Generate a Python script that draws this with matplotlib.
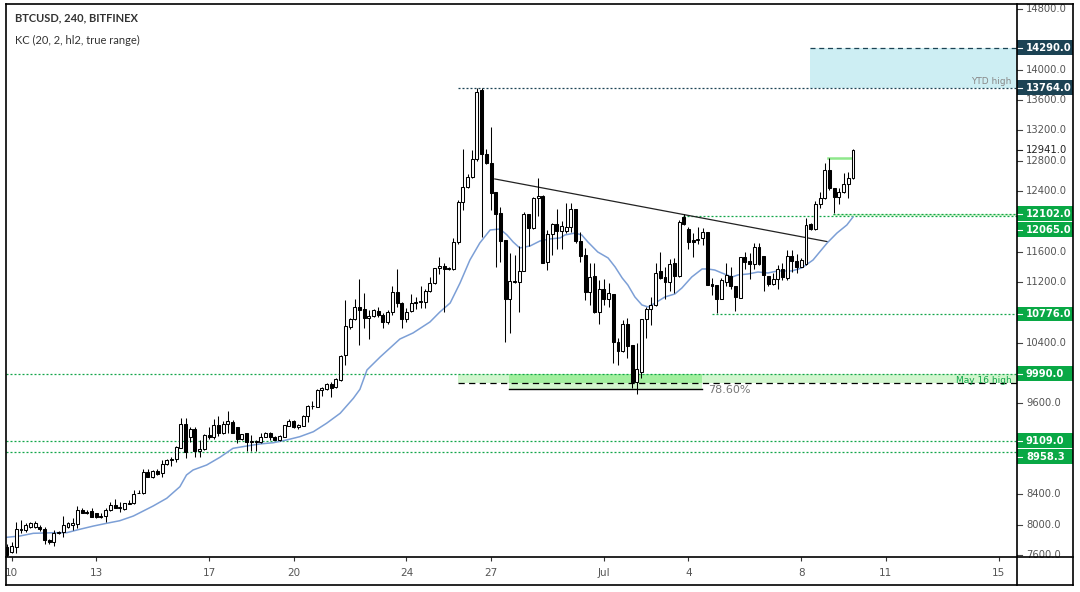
import matplotlib
matplotlib.use("Agg")
import matplotlib.pyplot as plt
from matplotlib.lines import Line2D
from matplotlib.patches import Rectangle
import numpy as np

# ---------------- data (4h candles, BTCUSD Bitfinex) ----------------
opens = [7700, 7642, 7708, 7930, 7928, 7972, 7963, 7968, 7937, 7796,
         7774, 7893, 7906, 7972, 7994, 8003, 8192, 8170, 8183, 8148,
         8104, 8113, 8192, 8254, 8223, 8210, 8275, 8280, 8412, 8412,
         8694, 8632, 8711, 8676, 8795, 8852, 8861, 9015, 9323, 9160,
         9257, 8971, 8993, 9182, 9151, 9314, 9204, 9323, 9358, 9292,
         9129, 9204, 9090, 9094, 9094, 9160, 9213, 9160, 9116, 9160,
         9301, 9367, 9292, 9305, 9437, 9560, 9556, 9776, 9785, 9855,
         9811, 9908, 10238, 10612, 10708, 10867, 10840, 10722, 10752, 10823,
         10766, 10669, 10810, 11074, 10920, 10713, 10818, 10928, 10940, 10942,
         11082, 11183, 11381, 11412, 11368, 11368, 11733, 12252, 12450, 12581,
         12819, 13733, 12889, 12766, 12383, 12106, 11755, 10972, 11205, 11205,
         11346, 12098, 11909, 12304, 12339, 11469, 11834, 11966, 11878, 11878,
         11922, 12159, 11746, 11557, 11073, 11280, 10800, 11108, 10972, 11042,
         10414, 10295, 10647, 10370, 9886, 10018, 10708, 10840, 10897, 11350,
         11262, 11205, 11447, 11280, 12062, 11896, 11755, 11755, 11776, 11855,
         11174, 11161, 10976, 11205, 11284, 11148, 10994, 11526, 11482, 11438,
         11658, 11543, 11280, 11174, 11240, 11367, 11258, 11543, 11477, 11403,
         11440, 11966, 11896, 12230, 12305, 12678, 12436, 12327, 12393, 12494,
         12568]
highs = [7740, 7765, 8038, 8060, 8025, 8040, 8045, 7990, 7972, 7810,
         7928, 7920, 8113, 8030, 8091, 8250, 8223, 8190, 8223, 8160,
         8150, 8223, 8293, 8337, 8302, 8290, 8324, 8456, 8456, 8729,
         8729, 8720, 8729, 8852, 8870, 8887, 9041, 9411, 9411, 9292,
         9283, 9116, 9190, 9292, 9398, 9433, 9367, 9499, 9380, 9292,
         9200, 9213, 9182, 9116, 9204, 9225, 9226, 9170, 9180, 9320,
         9389, 9375, 9328, 9440, 9580, 9635, 9790, 9820, 9870, 9886,
         9940, 10240, 10964, 10730, 10980, 11240, 11051, 10832, 10850, 10867,
         10788, 10830, 11148, 11368, 10942, 10854, 11042, 11007, 11148, 11104,
         11262, 11390, 11526, 11447, 11400, 11777, 12282, 12955, 12625, 12942,
         13764, 13764, 12955, 13241, 12383, 12194, 11755, 11579, 11557, 11676,
         12128, 12098, 12326, 12568, 12348, 11887, 11975, 12159, 12000, 12247,
         12247, 12159, 11865, 11645, 11447, 11456, 11227, 11236, 11192, 11042,
         10458, 10700, 10721, 10370, 10392, 10713, 10866, 10999, 11456, 11601,
         11403, 11500, 11513, 12018, 12098, 11931, 11843, 11922, 11908, 11855,
         11249, 11161, 11249, 11455, 11403, 11148, 11535, 11600, 11587, 11719,
         11719, 11543, 11280, 11323, 11420, 11455, 11622, 11622, 11565, 11513,
         12050, 11975, 12274, 12392, 12766, 12832, 12436, 12436, 12634, 12656,
         12960]
lows = [7560, 7630, 7630, 7893, 7906, 7950, 7950, 7920, 7740, 7750,
        7722, 7880, 7840, 7960, 7928, 7950, 8148, 8140, 8095, 8090,
        8090, 8038, 8183, 8218, 8170, 8200, 8270, 8276, 8412, 8410,
        8623, 8620, 8654, 8632, 8790, 8773, 8830, 9015, 8883, 9085,
        8887, 8887, 8990, 9130, 9134, 9169, 9195, 9204, 9204, 9072,
        9120, 8971, 8971, 8971, 9072, 9150, 9116, 9110, 9100, 9150,
        9295, 9280, 9261, 9300, 9350, 9525, 9550, 9697, 9780, 9679,
        9800, 9900, 10106, 10580, 10700, 10370, 10590, 10445, 10740, 10744,
        10590, 10650, 10765, 10876, 10590, 10669, 10810, 10840, 10854, 10854,
        11073, 11180, 11306, 10810, 11360, 11360, 11698, 12150, 12436, 12568,
        12800, 11799, 12757, 12150, 11394, 11469, 10413, 10523, 11183, 10809,
        11340, 11676, 11900, 12076, 11447, 11359, 11557, 11632, 11632, 11843,
        11865, 11720, 11469, 10963, 10897, 10796, 10647, 10897, 10867, 10128,
        10106, 10282, 10194, 9798, 9720, 9930, 10458, 10634, 10884, 11236,
        10972, 11086, 11060, 11271, 11953, 11640, 11526, 11702, 11688, 11161,
        11029, 10796, 10976, 11148, 11104, 10818, 10985, 11367, 11236, 11367,
        11420, 11086, 11148, 11161, 11108, 11227, 11227, 11337, 11323, 11403,
        11420, 11887, 11887, 12173, 12300, 12414, 12116, 12230, 12370, 12305,
        12555]
closes = [7600, 7717, 7937, 7937, 7990, 8016, 8025, 7937, 7796, 7774,
          7893, 7906, 7990, 8016, 8016, 8192, 8157, 8157, 8104, 8104,
          8120, 8192, 8258, 8223, 8236, 8280, 8285, 8399, 8420, 8694,
          8632, 8707, 8667, 8799, 8852, 8865, 9028, 9323, 8962, 9257,
          8971, 9002, 9182, 9151, 9314, 9204, 9323, 9367, 9213, 9125,
          9195, 9085, 9094, 9098, 9160, 9213, 9160, 9116, 9169, 9314,
          9371, 9283, 9314, 9433, 9565, 9570, 9776, 9798, 9855, 9798,
          9926, 10225, 10620, 10708, 10867, 10831, 10722, 10752, 10832, 10766,
          10669, 10810, 11074, 10920, 10713, 10810, 10928, 10942, 10945, 11082,
          11183, 11381, 11407, 11368, 11381, 11733, 12252, 12450, 12581, 12819,
          13700, 12889, 12766, 12370, 12098, 11746, 10972, 11218, 11215, 11346,
          12098, 11909, 12304, 12339, 11456, 11834, 11966, 11878, 11940, 11922,
          12159, 11746, 11548, 11073, 11262, 10809, 11108, 10972, 11051, 10414,
          10295, 10647, 10361, 9886, 10049, 10713, 10840, 10897, 11324, 11249,
          11205, 11438, 11280, 11988, 11966, 11733, 11733, 11760, 11855, 11161,
          11148, 10972, 11227, 11293, 11148, 11007, 11526, 11464, 11433, 11658,
          11433, 11293, 11174, 11240, 11367, 11262, 11543, 11477, 11403, 11486,
          11953, 11896, 12230, 12305, 12678, 12436, 12327, 12393, 12494, 12568,
          12941]

# Keltner channel middle line (candle index, price)
kc_x = [-0.1, 2.8, 5.6, 9.9, 12.7, 15.5, 18.4, 21.2, 24.0, 26.9,
        28.3, 31.1, 34.0, 36.8, 38.2, 39.6, 42.5, 45.3, 48.1, 51.0,
        53.8, 56.7, 59.5, 62.3, 65.2, 68.0, 70.9, 73.7, 75.1, 76.6,
        79.4, 83.6, 86.4, 90.0, 92.1, 94.3, 96.4, 98.5, 100.6, 102.8,
        104.9, 106.4, 107.7, 109.1, 111.3, 113.4, 115.5, 117.7, 118.7, 120.9,
        122.3, 123.6, 125.7, 127.9, 129.4, 130.9, 132.1, 133.6, 135.1, 136.4,
        137.9, 140.0, 142.1, 143.6, 145.7, 147.9, 149.1, 150.6, 152.1, 154.3,
        155.5, 157.7, 159.8, 161.9, 164.0, 167.0, 169.1, 171.5, 174.5, 176.6,
        178.7, 180.0]
kc_y = [7833, 7851, 7886, 7894, 7894, 7939, 7982, 8018, 8052, 8114,
        8158, 8246, 8348, 8501, 8655, 8721, 8787, 8888, 9007, 9037,
        9064, 9081, 9117, 9160, 9226, 9337, 9469, 9666, 9785, 10040,
        10211, 10448, 10528, 10673, 10804, 10923, 11187, 11490, 11714, 11886,
        11899, 11820, 11728, 11649, 11675, 11741, 11768, 11781, 11820, 11846,
        11820, 11728, 11596, 11517, 11398, 11253, 11161, 11003, 10897, 10871,
        10923, 11003, 11042, 11121, 11266, 11372, 11372, 11358, 11319, 11266,
        11293, 11306, 11332, 11319, 11346, 11346, 11385, 11490, 11714, 11846,
        11952, 12057]

tick_pos = [1, 19, 43, 61, 85, 103, 127, 145, 169, 187, 211]
tick_labels = ["10", "13", "17", "20", "24", "27", "Jul", "4", "8", "11", "15"]
price_ticks = list(range(7600, 14801, 400))

green_levels = [12102.0, 12065.0, 10776.0, 9990.0, 9109.0, 8958.3]
teal_levels = [14290.0, 13764.0]
last_price = 12941.0
ytd_high = 14290.0
may16_high = 9868.0
fib_786 = 9789.0
local_high = 12835.0

# ---------------- layout ----------------
W, H = 1080, 592
PX = 13.187                      # price units per pixel
Y0 = 7600 - 2 * PX
Y1 = 7600 + 551 * PX
XL, XR = -0.2, 214.9
END = XR

GREEN = "#12a64a"
GREEN_BOX = "#09a845"
TEAL = "#1c4354"
GRAY = "#555555"

fig = plt.figure(figsize=(W / 100, H / 100), dpi=100)
fig.patch.set_facecolor("white")

def fx(px):
    return px / W

def fy(py):
    return 1 - py / H

ax = fig.add_axes([fx(6), fy(557), (1017 - 6) / W, 553 / H])
ax.set_xlim(XL, XR)
ax.set_ylim(Y0, Y1)
for s in ax.spines.values():
    s.set_visible(False)
ax.set_yticks([])
ax.set_xticks(tick_pos)
ax.set_xticklabels(tick_labels)
ax.tick_params(axis="x", direction="out", length=3, width=0.8, color="#333333",
               labelsize=7.5, labelcolor=GRAY, pad=5)

ax2 = fig.add_axes([fx(1017), fy(557), 56 / W, 553 / H])
ax2.set_xlim(0, 1)
ax2.set_ylim(Y0, Y1)
ax2.axis("off")

# ---------------- zones & levels ----------------
ax.add_patch(Rectangle((170.9, 13764), END - 170.9, 14290 - 13764,
                       facecolor="#cdeef3", edgecolor="none", zorder=1))
ax.add_patch(Rectangle((96.0, may16_high), END - 96.0, 9990 - may16_high,
                       facecolor="#d2f6ce", edgecolor="none", zorder=1))
ax.add_patch(Rectangle((106.8, may16_high), 147.9 - 106.8, 9990 - may16_high,
                       facecolor="#a2ef9e", edgecolor="none", zorder=1.1))
ax.add_patch(Rectangle((106.8, fib_786), 147.9 - 106.8, may16_high - fib_786,
                       facecolor="#d2f6ce", edgecolor="none", zorder=1.1))
ax.add_patch(Rectangle((175.7, 12065), END - 175.7, 12102 - 12065,
                       facecolor="#d2f6ce", edgecolor="none", zorder=1))

dot = (0, (1.6, 1.6))
level_starts = {12102.0: 175.7, 12065.0: 143.8, 10776.0: 150.0,
                9990.0: XL, 9109.0: XL, 8958.3: XL}
for lv in green_levels:
    ax.plot([level_starts[lv], END], [lv, lv], color=GREEN, lw=0.9,
            linestyle=dot, zorder=2)
ax.plot([96.0, END], [13764, 13764], color=TEAL, lw=0.9, linestyle=dot, zorder=2)
ax.plot([170.9, END], [ytd_high, ytd_high], color=TEAL, lw=0.9,
        linestyle=(0, (4, 3)), zorder=2)
ax.plot([96.0, END], [may16_high, may16_high], color="black", lw=0.9,
        linestyle=(0, (5, 3.5)), zorder=2)
ax.plot([106.8, 147.9], [fib_786, fib_786], color="black", lw=1.0, zorder=2)

# trend line and local-high marker
ax.plot([103.8, 174.5], [12559, 11733], color="#222222", lw=0.9, zorder=2.5)
ax.plot([174.7, 179.8], [local_high, local_high], color="#8fe88c", lw=1.8, zorder=2.5)

# KC middle line
ax.plot(kc_x, kc_y, color="#7c9fd6", lw=1.1, zorder=2.6)

# ---------------- candles ----------------
o = np.array(opens, float)
h = np.array(highs, float)
l = np.array(lows, float)
c = np.array(closes, float)
x = np.arange(len(o))
up = c >= o
ax.vlines(x, l, h, color="black", lw=0.75, zorder=3)
bottoms = np.minimum(o, c)
heights = np.maximum(np.abs(c - o), 10)
ax.bar(x, heights, bottom=bottoms, width=0.62,
       color=np.where(up, "white", "black"), edgecolor="black",
       linewidth=0.75, zorder=4)

# annotations
ax.text(213.8, 13850, "YTD high", ha="right", va="center", fontsize=6.5,
        color="#888888", zorder=5)
ax.text(213.8, 9900, "May 16 high", ha="right", va="center", fontsize=6.5,
        color=GREEN, zorder=5)
ax.text(149.2, 9770, "78.60%", ha="left", va="center", fontsize=8,
        color="#777777", zorder=5)

# ---------------- right price scale ----------------
hh = 7.3 * PX
# displayed label positions (labels that would collide are pushed apart)
label_pos = {14290.0: 14290.0, 13764.0: 13764.0, 12102.0: 12102.0,
             12065.0: 12102.0 - 16 * PX, 10776.0: 10776.0, 9990.0: 9990.0,
             9109.0: 9109.0, 8958.3: 9109.0 - 16 * PX}
box_centres = list(label_pos.values())

for p in price_ticks:
    if min(abs(p - b) for b in box_centres) < 12 * PX:
        continue
    ax2.plot([0, 0.09], [p, p], color="#444444", lw=0.8, zorder=1)
    ax2.text(0.16, p, f"{p:.1f}", ha="left", va="center", fontsize=7.2,
             color=GRAY, zorder=1.5)

for lv in teal_levels + green_levels:
    col = TEAL if lv in teal_levels else GREEN_BOX
    yp = label_pos[lv]
    ax2.add_patch(Rectangle((0, yp - hh), 1, 2 * hh, facecolor=col,
                            edgecolor="none", zorder=3))
    ax2.plot([0, 0.09], [yp, yp], color="white", lw=0.8, zorder=3.5)
    ax2.text(0.16, yp, f"{lv:.1f}", ha="left", va="center", fontsize=7.2,
             color="white", fontweight="bold", zorder=4)

ax2.add_patch(Rectangle((0.0, last_price - hh * 0.8), 1, 2 * hh * 0.8,
                        facecolor="white", edgecolor="none", zorder=3))
ax2.plot([0, 0.09], [last_price, last_price], color="#222222", lw=0.8, zorder=3.5)
ax2.text(0.16, last_price, f"{last_price:.1f}", ha="left", va="center",
         fontsize=7.2, color="#222222", zorder=4)

# ---------------- frame ----------------
def fline(x0, y0, x1, y1, lw=1.2):
    fig.add_artist(Line2D([fx(x0), fx(x1)], [fy(y0), fy(y1)], color="black",
                          lw=lw, transform=fig.transFigure))

fline(6, 4, 1073, 4)
fline(6, 585, 1073, 585)
fline(6, 4, 6, 585)
fline(1073, 4, 1073, 585)
fline(6, 557, 1073, 557)
fline(1017, 4, 1017, 585)

# ---------------- titles ----------------
fig.text(fx(15), fy(18), "BTCUSD, 240, BITFINEX", ha="left", va="center",
         fontsize=8, fontweight="bold", family="Lato", color="#333333")
fig.text(fx(15), fy(40), "KC (20, 2, hl2, true range)", ha="left", va="center",
         fontsize=8, family="Lato", color="#333333")

fig.savefig("out.png", dpi=100, facecolor="white")
